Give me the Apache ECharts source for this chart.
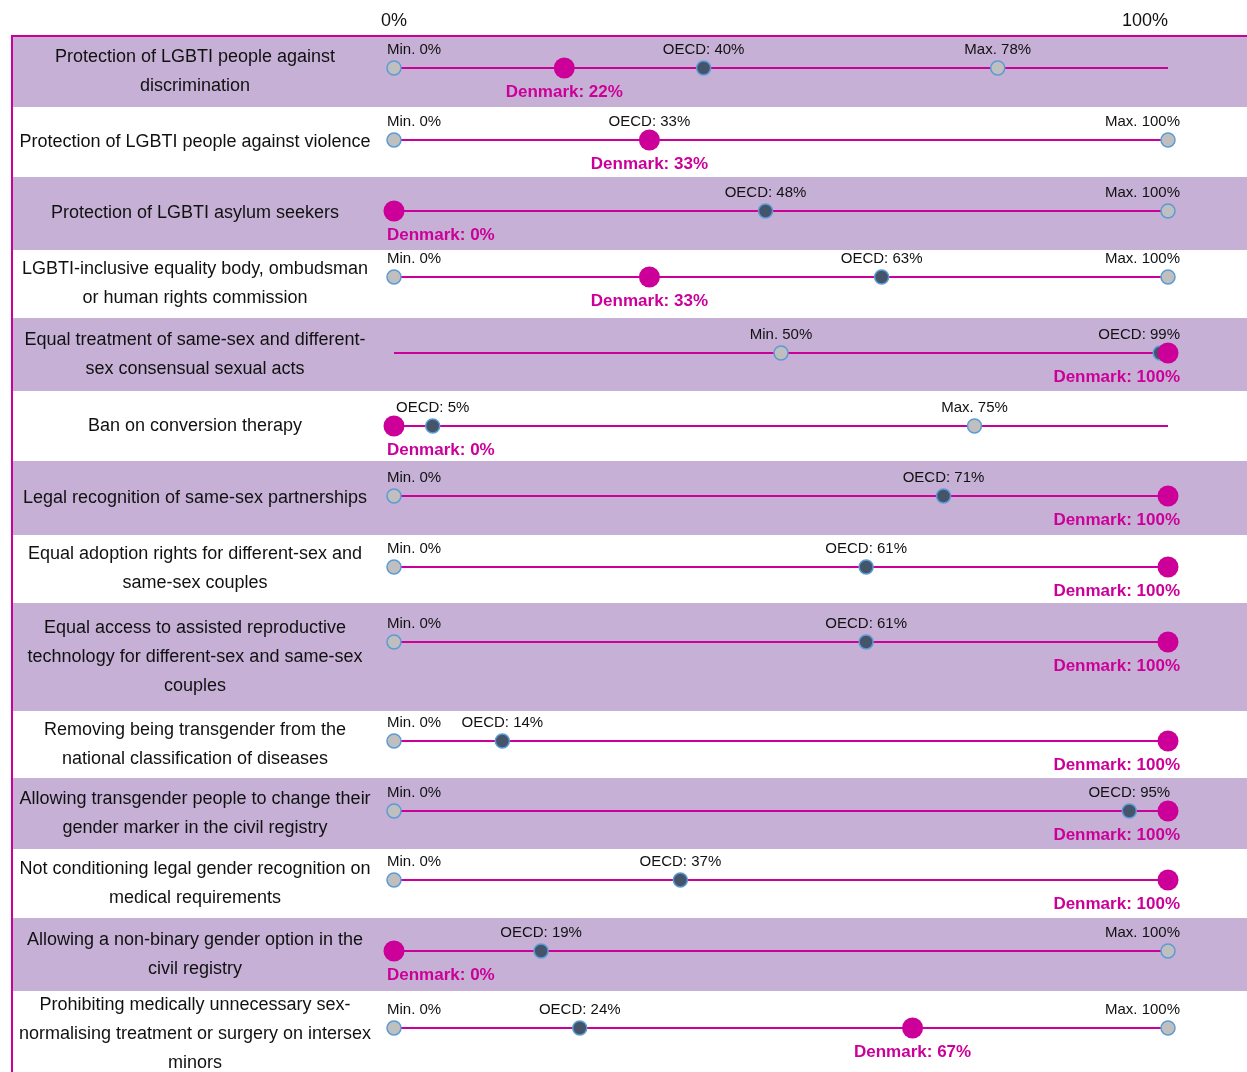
<!DOCTYPE html>
<html>
<head>
<meta charset="utf-8">
<title>LGBTI-inclusive laws – Denmark vs OECD</title>
<script src="https://cdn.jsdelivr.net/npm/echarts@6/dist/echarts.min.js"></script>
<style>
  html, body { margin: 0; padding: 0; background: #fff; }
  #chart { width: 1247px; height: 1072px; }
</style>
</head>
<body>
<div id="chart"></div>
<script>
// data
const categories = [
  "Protection of LGBTI people against\ndiscrimination",
  "Protection of LGBTI people against violence",
  "Protection of LGBTI asylum seekers",
  "LGBTI-inclusive equality body, ombudsman\nor human rights commission",
  "Equal treatment of same-sex and different-\nsex consensual sexual acts",
  "Ban on conversion therapy",
  "Legal recognition of same-sex partnerships",
  "Equal adoption rights for different-sex and\nsame-sex couples",
  "Equal access to assisted reproductive\ntechnology for different-sex and same-sex\ncouples",
  "Removing being transgender from the\nnational classification of diseases",
  "Allowing transgender people to change their\ngender marker in the civil registry",
  "Not conditioning legal gender recognition on\nmedical requirements",
  "Allowing a non-binary gender option in the\ncivil registry",
  "Prohibiting medically unnecessary sex-\nnormalising treatment or surgery on intersex\nminors"
];
const minValues = [0, 0, 0, 0, 50, 0, 0, 0, 0, 0, 0, 0, 0, 0];
const maxValues = [78, 100, 100, 100, 100, 75, 100, 100, 100, 100, 100, 100, 100, 100];
const oecdValues = [40, 33, 48, 63, 99, 5, 71, 61, 61, 14, 95, 37, 19, 24];
const denmarkValues = [22, 33, 0, 33, 100, 0, 100, 100, 100, 100, 100, 100, 0, 67];
const axisTicks = [0, 100];

// layout (px)
const ROW_TOPS = [37, 107, 177, 250, 318, 391, 461, 535, 603, 711, 778, 849, 918, 991];
const ROW_BOTTOM = 1078;
const LINE_Y = [68, 140, 211, 277, 353, 426, 496, 567, 642, 741, 811, 880, 951, 1028];
const PLOT_LEFT = 394, PLOT_WIDTH = 774;
const LABEL_CENTER_X = 195;
const MAGENTA = "#cc0099", BAND = "#c6b0d5", TEXT = "#111111";
const FONT = "'Liberation Sans', Arial, sans-serif";

// keep point labels inside the plot area
function clampLabel(params) {
  const r = params.labelRect;
  const lo = PLOT_LEFT - 7, hi = PLOT_LEFT + PLOT_WIDTH + 12;
  if (r.x < lo) return { dx: lo - r.x };
  if (r.x + r.width > hi) return { dx: hi - r.x - r.width };
  return {};
}

const chart = echarts.init(document.getElementById("chart"));
const grids = [], xAxes = [], yAxes = [], series = [], graphics = [];

categories.forEach(function (cat, i) {
  const top = ROW_TOPS[i];
  const bottom = i < ROW_TOPS.length - 1 ? ROW_TOPS[i + 1] : ROW_BOTTOM;

  if (i % 2 === 0) {
    graphics.push({
      type: "rect", silent: true, z: -10,
      shape: { x: 12, y: top, width: 1235, height: bottom - top },
      style: { fill: BAND }
    });
  }

  // one grid per row band; y = 0 sits on the row's line
  grids.push({
    left: PLOT_LEFT, width: PLOT_WIDTH, top: top, height: bottom - top,
    outerBoundsMode: "none", containLabel: false
  });

  xAxes.push({
    gridIndex: i, type: "value", min: axisTicks[0], max: axisTicks[1], interval: 100,
    show: i === 0, position: "top", offset: top - 21,
    axisLine: { show: false }, axisTick: { show: false }, splitLine: { show: false },
    axisLabel: { formatter: "{value}%", fontSize: 18, color: TEXT, margin: 0, alignMaxLabel: "right",
                 verticalAlign: "middle" }
  });

  yAxes.push({
    gridIndex: i, type: "value", min: LINE_Y[i] - bottom, max: LINE_Y[i] - top,
    axisLine: { show: false }, axisTick: { show: false }, splitLine: { show: false },
    axisLabel: { show: false },
    name: cat, nameLocation: "middle", nameRotate: 0, nameGap: PLOT_LEFT - LABEL_CENTER_X,
    nameTextStyle: { align: "center", verticalAlign: "middle", fontSize: 18, lineHeight: 29, color: TEXT }
  });

  series.push({
    type: "line", xAxisIndex: i, yAxisIndex: i, silent: true, z: 1,
    data: axisTicks.map(function (v) { return [v, 0]; }),
    symbol: "none", lineStyle: { color: MAGENTA, width: 2 }
  });

  // min / max markers (hidden when Denmark sits on them)
  const ends = [
    { value: [minValues[i], 0], name: "Min." },
    { value: [maxValues[i], 0], name: "Max." }
  ].filter(function (d) { return d.value[0] !== denmarkValues[i]; });

  series.push({
    type: "scatter", xAxisIndex: i, yAxisIndex: i, z: 3,
    data: ends, symbolSize: 14,
    itemStyle: { color: "#bfbfbf", borderColor: "#5b9bd5", borderWidth: 1.5, opacity: 1 },
    label: {
      show: true, position: "top", distance: 3, fontSize: 15, color: TEXT,
      formatter: function (p) { return p.name + " " + p.value[0] + "%"; }
    },
    labelLayout: clampLabel
  });

  series.push({
    type: "scatter", xAxisIndex: i, yAxisIndex: i, z: 4,
    data: [[oecdValues[i], 0]], symbolSize: 14,
    itemStyle: { color: "#44546a", borderColor: "#5b9bd5", borderWidth: 1.5, opacity: 1 },
    label: {
      show: true, position: "top", distance: 3, fontSize: 15, color: TEXT,
      formatter: function (p) { return "OECD: " + p.value[0] + "%"; }
    },
    labelLayout: clampLabel
  });

  series.push({
    type: "scatter", xAxisIndex: i, yAxisIndex: i, z: 5,
    data: [[denmarkValues[i], 0]], symbolSize: 21,
    itemStyle: { color: MAGENTA, opacity: 1 },
    label: {
      show: true, position: "bottom", distance: 5, fontSize: 17, fontWeight: "bold",
      color: MAGENTA,
      formatter: function (p) { return "Denmark: " + p.value[0] + "%"; }
    },
    labelLayout: clampLabel
  });
});

// outer border
graphics.push(
  { type: "line", silent: true, shape: { x1: 11, y1: 36, x2: 1247, y2: 36 },
    style: { stroke: MAGENTA, lineWidth: 2 } },
  { type: "line", silent: true, shape: { x1: 12, y1: 36, x2: 12, y2: 1072 },
    style: { stroke: MAGENTA, lineWidth: 2 } }
);

chart.setOption({
  animation: false,
  backgroundColor: "#ffffff",
  textStyle: { fontFamily: FONT },
  grid: grids,
  xAxis: xAxes,
  yAxis: yAxes,
  series: series,
  graphic: graphics
});
</script>
</body>
</html>
